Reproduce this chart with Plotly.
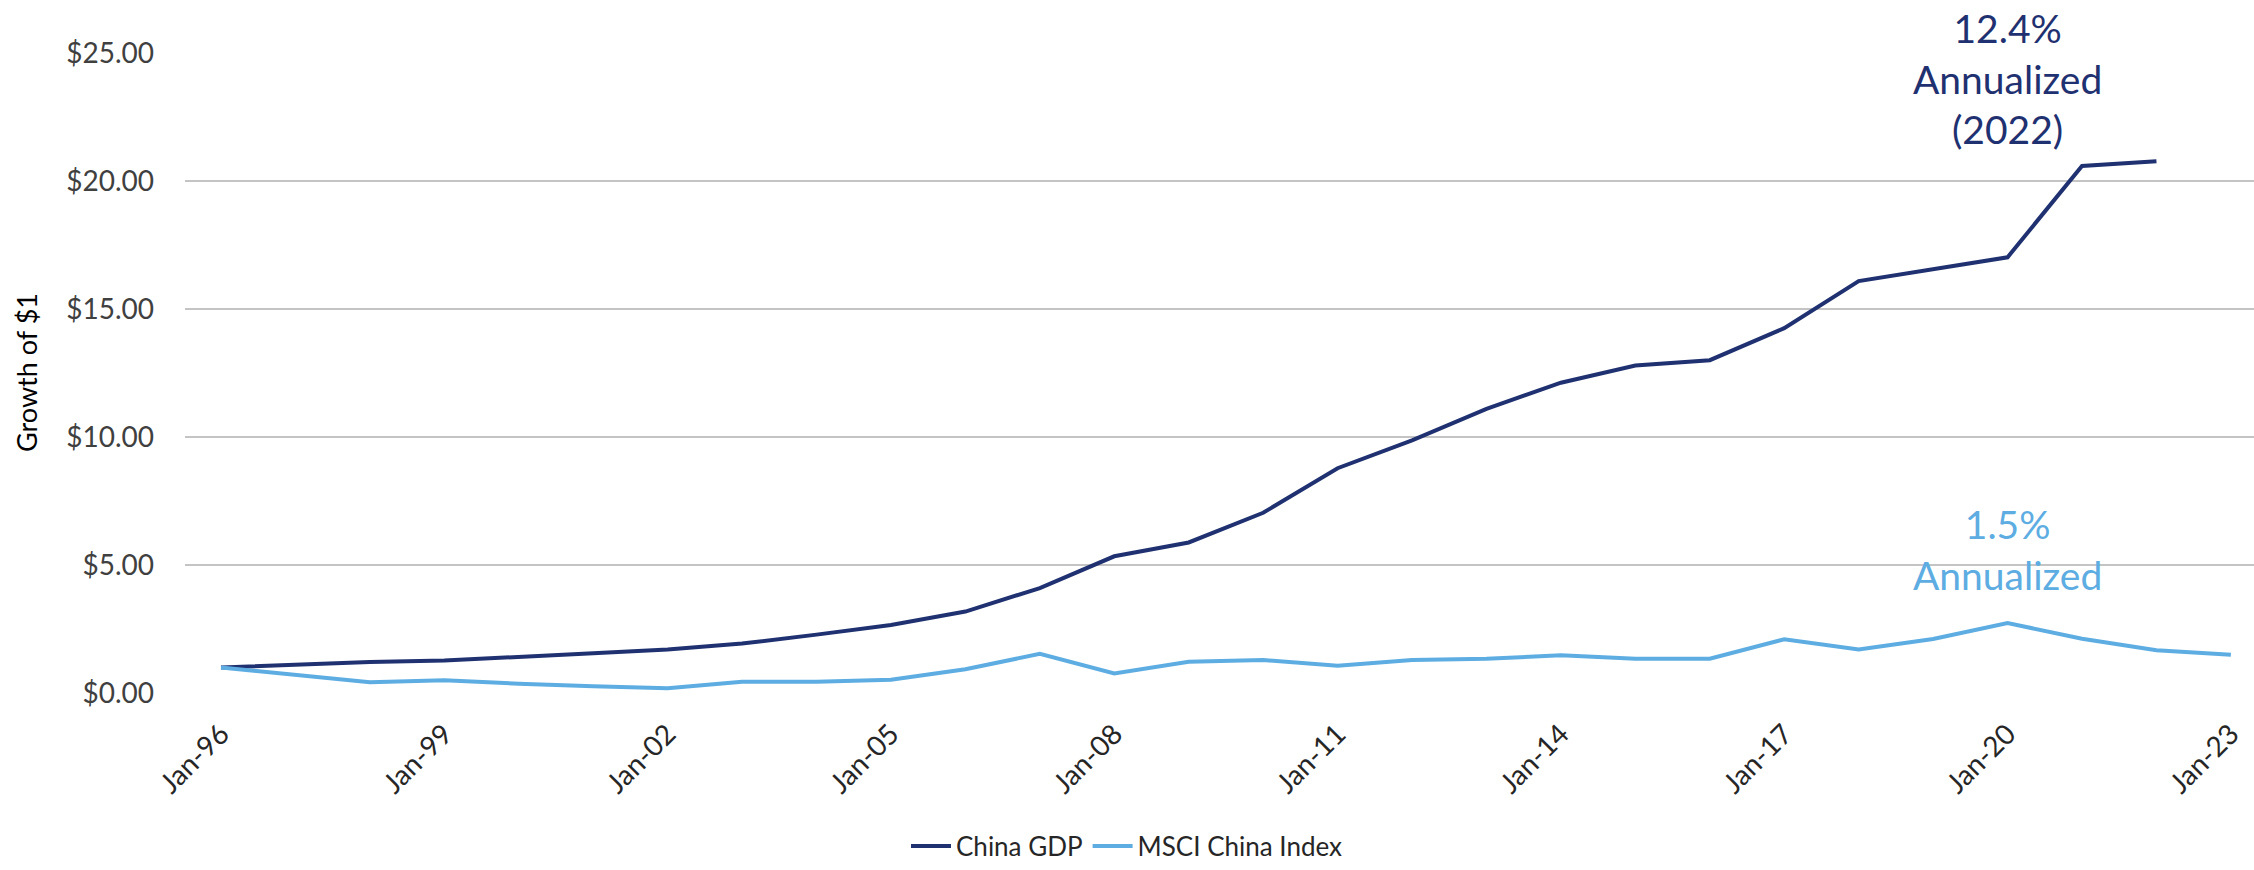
import plotly.graph_objects as go

years = list(range(1996, 2024))
china_gdp = [1.00, 1.10, 1.21, 1.27, 1.40, 1.55, 1.70, 1.93, 2.28, 2.66,
             3.18, 4.10, 5.34, 5.88, 7.04, 8.78, 9.87, 11.10, 12.12, 12.79,
             13.00, 14.25, 16.09, 16.55, 17.02, 20.59, 20.77, None]
msci_china = [1.00, 0.72, 0.42, 0.50, 0.36, 0.26, 0.19, 0.44, 0.44, 0.52,
              0.93, 1.53, 0.76, 1.22, 1.29, 1.06, 1.29, 1.34, 1.47, 1.34,
              1.34, 2.10, 1.70, 2.11, 2.73, 2.12, 1.67, 1.49]
tick_years = [1996, 1999, 2002, 2005, 2008, 2011, 2014, 2017, 2020, 2023]
tick_text = ["Jan-96", "Jan-99", "Jan-02", "Jan-05", "Jan-08", "Jan-11",
             "Jan-14", "Jan-17", "Jan-20", "Jan-23"]
y_ticks = [0, 5, 10, 15, 20, 25]
y_text = ["$0.00", "$5.00", "$10.00", "$15.00", "$20.00", "$25.00"]

DARK = "#1F3170"
LIGHT = "#5DADE2"
FONT = "Lato"

fig = go.Figure()
fig.add_trace(go.Scatter(x=years, y=china_gdp, mode="lines", name="China GDP",
                         line=dict(color=DARK, width=4)))
fig.add_trace(go.Scatter(x=years, y=msci_china, mode="lines", name="MSCI China Index",
                         line=dict(color=LIGHT, width=4)))

W, H = 2254, 870
L, R, T, B = 185, 0, 53, 169
plot_w = W - L - R
px_per_year = 74.44
x0 = 1996 - 36 / px_per_year
x1 = x0 + plot_w / px_per_year

fig.update_layout(
    width=W, height=H,
    margin=dict(l=L, r=R, t=T, b=B),
    paper_bgcolor="white", plot_bgcolor="white",
    font=dict(family=FONT, color="#404040"),
    showlegend=True,
    legend=dict(orientation="h", x=(1127 - L) / plot_w, xanchor="center",
                y=-(856 - (H - B)) / (H - T - B), yanchor="middle",
                itemwidth=40,
                font=dict(size=26, color="#262626", family=FONT)),
    xaxis=dict(range=[x0, x1], tickmode="array", tickvals=tick_years, ticktext=tick_text,
               tickangle=-45, showgrid=False, zeroline=False, showline=False,
               ticks="", ticklabelstandoff=18, tickfont=dict(size=28, color="#262626")),
    yaxis=dict(range=[0, 25], tickmode="array", tickvals=y_ticks, ticktext=y_text,
               showgrid=True, gridcolor="#C4C4C4", gridwidth=2, zeroline=False,
               showline=False, ticks="", ticklabelstandoff=30,
               tickfont=dict(size=28, color="#404040")),
)

fig.add_annotation(text="Growth of $1", textangle=-90, xref="paper", yref="paper",
                   x=(26 - L) / plot_w, y=0.50, xanchor="center", yanchor="middle",
                   showarrow=False, font=dict(size=27, color="#000000", family=FONT))
fig.add_annotation(text="12.4%<br>Annualized<br>(2022)", x=2020, y=24.0,
                   xref="x", yref="y", showarrow=False, xanchor="center", yanchor="middle",
                   font=dict(size=39, color=DARK, family=FONT))
fig.add_annotation(text="1.5%<br>Annualized", x=2020, y=5.6,
                   xref="x", yref="y", showarrow=False, xanchor="center", yanchor="middle",
                   font=dict(size=39, color=LIGHT, family=FONT))

fig.write_html("out.html")
